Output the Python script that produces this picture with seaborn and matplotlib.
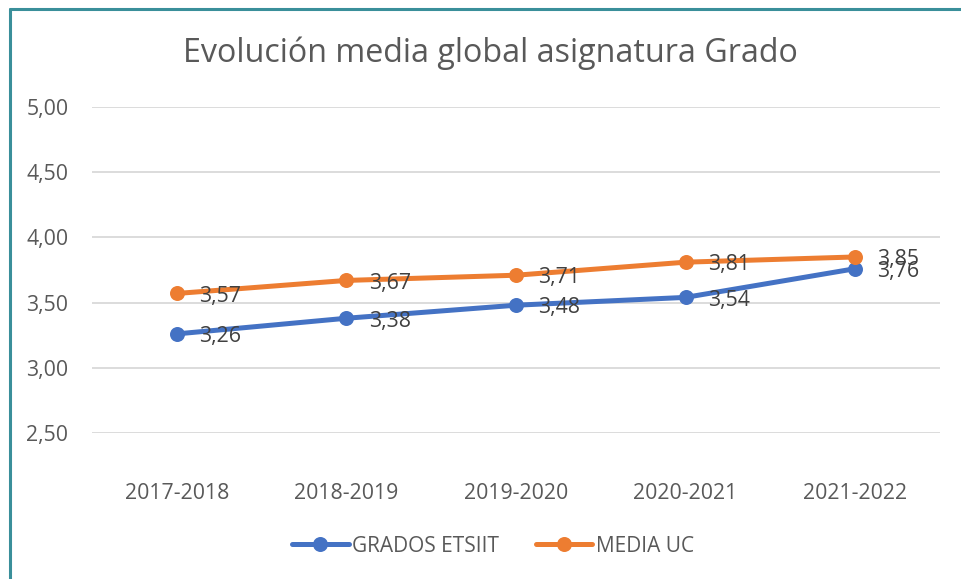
import matplotlib
matplotlib.use("Agg")
import matplotlib.pyplot as plt
import seaborn as sns
import pandas as pd
from matplotlib.lines import Line2D

years = ["2017-2018", "2018-2019", "2019-2020", "2020-2021", "2021-2022"]
grados_etsiit = [3.26, 3.38, 3.48, 3.54, 3.76]
media_uc = [3.57, 3.67, 3.71, 3.81, 3.85]
series_names = ["GRADOS ETSIIT", "MEDIA UC"]
yticks = [2.5, 3.0, 3.5, 4.0, 4.5, 5.0]

df = pd.DataFrame({
    "year": years * 2,
    "x": list(range(len(years))) * 2,
    "value": grados_etsiit + media_uc,
    "serie": [series_names[0]] * len(years) + [series_names[1]] * len(years),
})

sns.set_theme(style="white")
plt.rcParams['font.family'] = ['Open Sans', 'DejaVu Sans']
text_color = "#595959"
palette = {series_names[0]: "#4472C4", series_names[1]: "#ED7D31"}

fig = plt.figure(figsize=(9.61, 5.79), dpi=100)
ax = fig.add_axes([92/961, 1 - 433/579, (940-92)/961, (433-107)/579])

sns.lineplot(data=df, x="x", y="value", hue="serie", palette=palette,
             marker="o", markersize=10.8, linewidth=3.6, markeredgewidth=0,
             ax=ax, legend=False, zorder=3)

ax.set_xlim(-0.5, len(years) - 0.5)
ax.set_ylim(2.5, 5.0)
ax.set_yticks(yticks)
ax.set_yticklabels([f"{v:.2f}".replace(".", ",") for v in yticks])
ax.set_xticks(range(len(years)))
ax.set_xticklabels(years)
ax.tick_params(axis="both", length=0, labelsize=15.3, colors=text_color)
ax.tick_params(axis="y", pad=17)
ax.tick_params(axis="x", pad=36)
ax.grid(axis="y", color="#D9D9D9", linewidth=1.3)
ax.set_xlabel("")
ax.set_ylabel("")
for s in ax.spines.values():
    s.set_visible(False)

for name, vals in zip(series_names, [grados_etsiit, media_uc]):
    for i, v in enumerate(vals):
        ax.annotate(f"{v:.2f}".replace(".", ","), (i, v), xytext=(16, -2),
                    textcoords="offset points", ha="left", va="center",
                    fontsize=15.3, color="#404040", zorder=4)

fig.text(490/961, 1 - 53/579, "Evolución media global asignatura Grado",
         ha="center", va="center", fontsize=23.2, color=text_color)

handles = [Line2D([0], [0], color=palette[n], marker="o", markersize=10.8,
                  linewidth=3.6, markeredgewidth=0) for n in series_names]
fig.legend(handles, series_names, loc="center", bbox_to_anchor=(493/961, 1 - 546/579),
           ncol=2, frameon=False, fontsize=15, labelcolor=text_color,
           handlelength=2.7, columnspacing=1.8, handletextpad=0.15)

border = "#3A8F9A"
fig.add_artist(Line2D([10/961, 1], [1 - 9/579, 1 - 9/579], color=border, linewidth=2.2,
                      transform=fig.transFigure))
fig.add_artist(Line2D([10/961, 10/961], [0, 1 - 9/579], color=border, linewidth=2.2,
                      transform=fig.transFigure))

fig.savefig("out.png", dpi=100, facecolor="white")
